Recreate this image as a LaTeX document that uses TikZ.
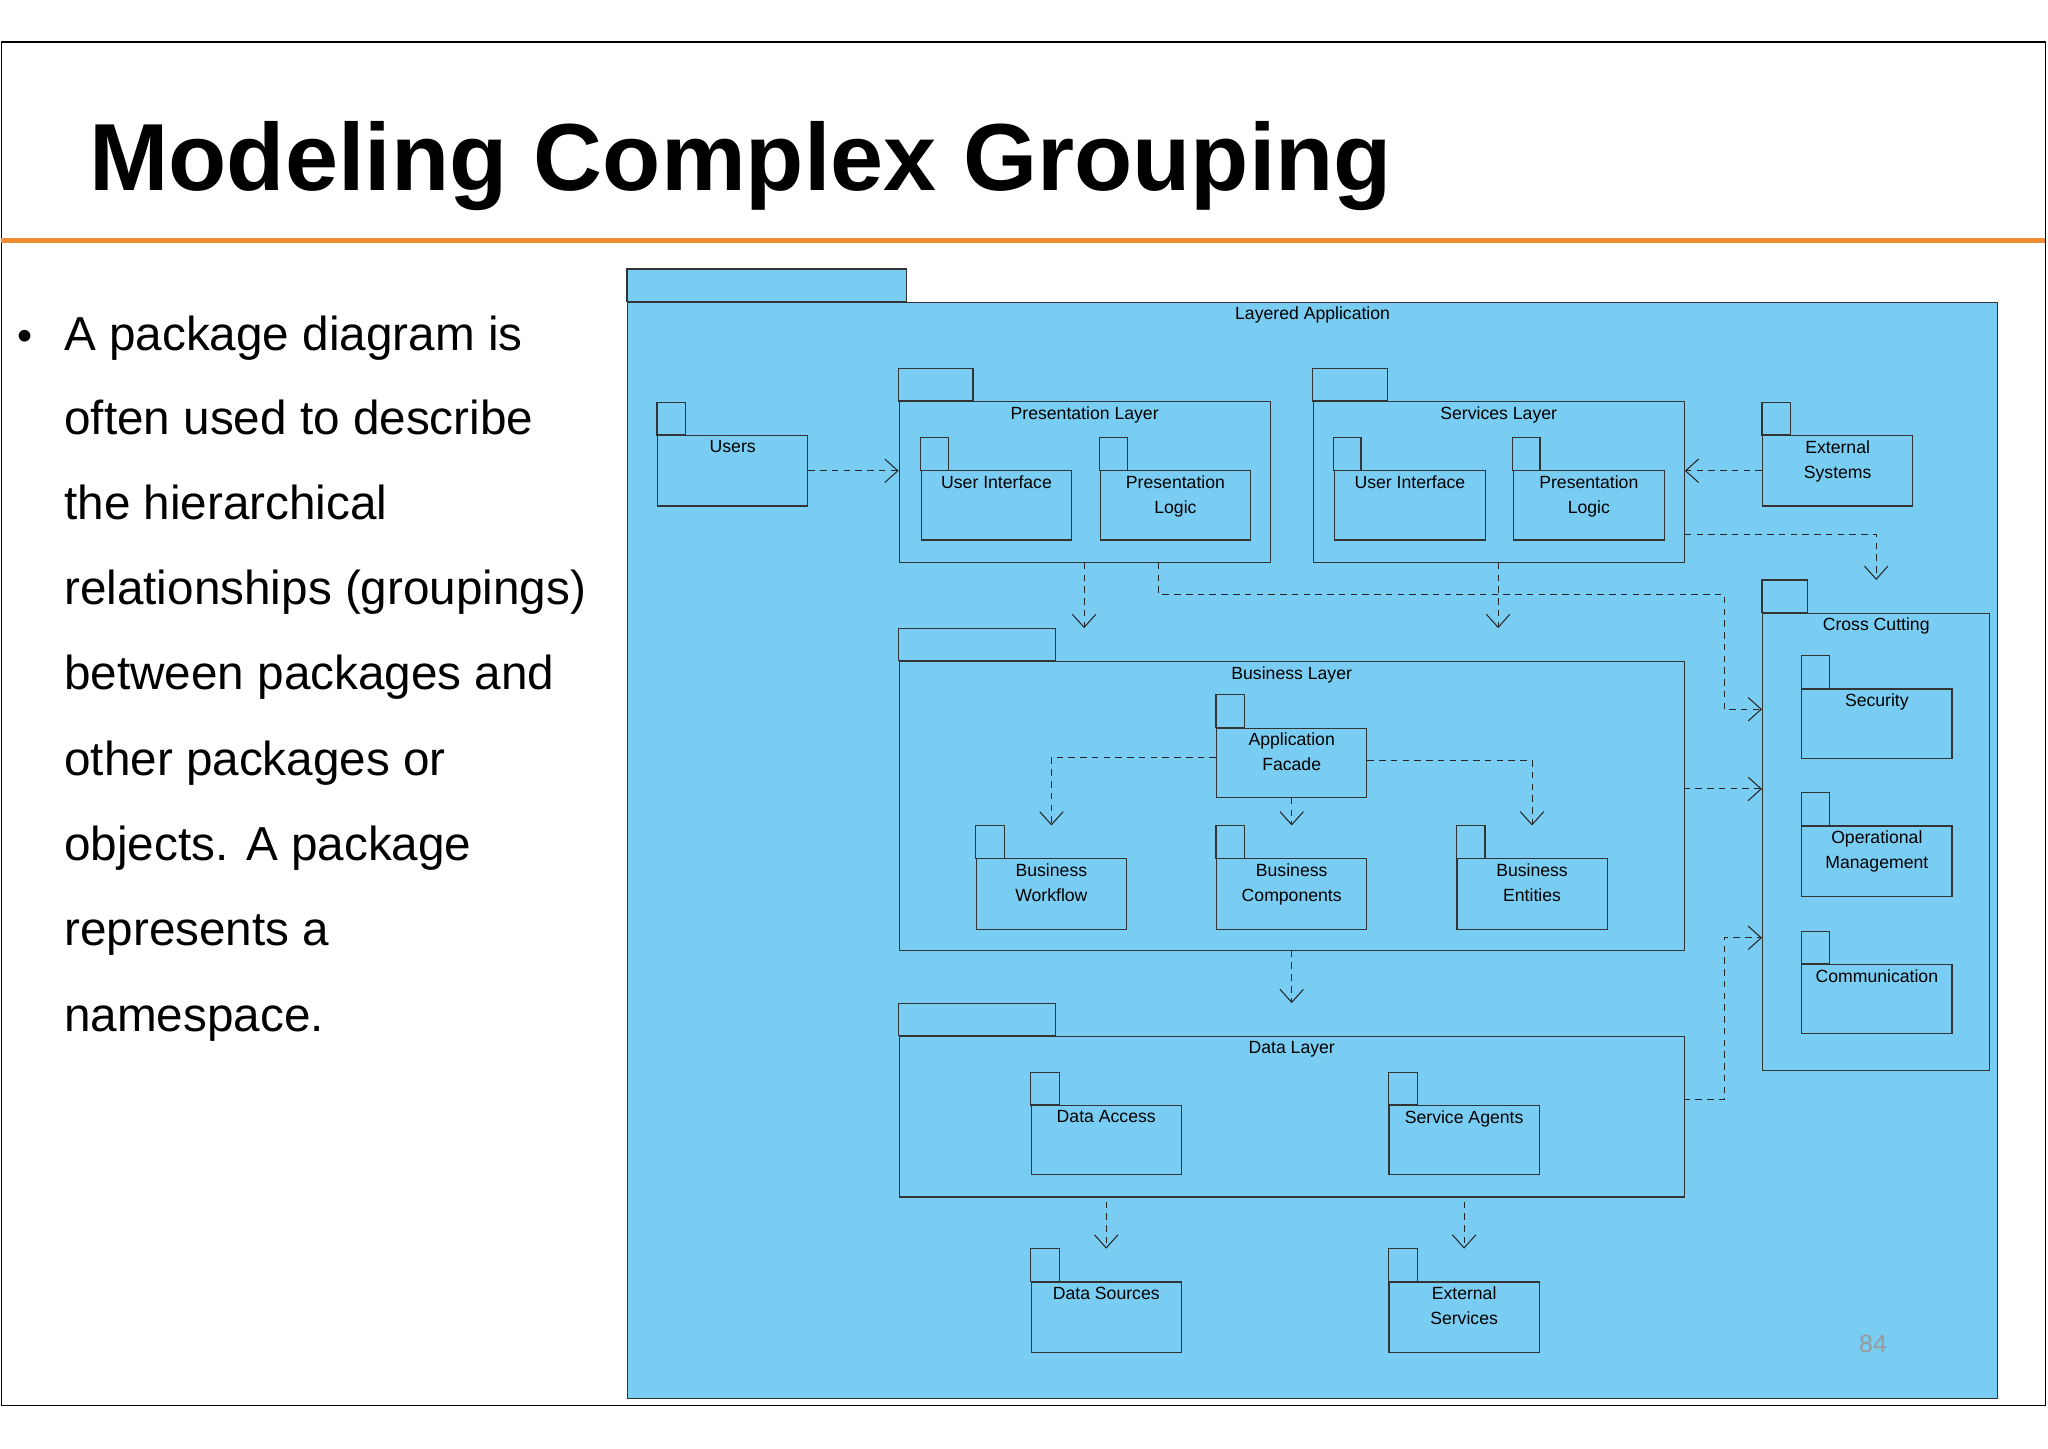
\documentclass[tikz,border=0pt]{standalone}
\usepackage{fontspec}
\setmainfont{Liberation Sans}
\usetikzlibrary{calc,arrows.meta}
\definecolor{pkblue}{RGB}{122,205,242}
\definecolor{orangeline}{RGB}{240,140,50}
\tikzset{
  pkbody/.style={draw=black!80,fill=pkblue,line width=0.9pt,anchor=north west,inner sep=0pt},
  pklab/.style={anchor=north,align=center,font=\fontsize{13.5}{19}\selectfont,inner sep=0pt},
  dep/.style={draw=black!85,line width=0.8pt,dash pattern=on 5pt off 4pt,-{Straight Barb[length=10pt,width=18pt]}},
  body/.style={anchor=base west,font=\fontsize{36.5}{40}\selectfont,inner sep=0pt}
}
% name, x1, y1, x2, y2, tab width, label
\newcommand\mypkg[7]{%
  \node[pkbody,minimum width={#4pt-#2pt},minimum height={#5pt-#3pt}] (#1) at (#2,#3) {};
  \draw[draw=black!80,fill=pkblue,line width=0.9pt] (#1.north west) rectangle ++(#6,-25);
  \node[pklab] (#1-l) at ([yshift=-4pt]#1.north) {#7};
}
\begin{document}
\begin{tikzpicture}[x=1pt,y=-1pt]
\useasboundingbox (0,0) rectangle (1568,1109);
\draw[line width=1.2pt] (1,32) rectangle (1566,1076);
\node[anchor=base west,font=\fontsize{73}{76}\selectfont\bfseries,inner sep=0pt] (title) at (68,146) {Modeling Complex Grouping};
\draw[orangeline,line width=4pt] (1,184) -- (1566,184);
% bullet text
\node[anchor=base west,font=\fontsize{33}{40}\selectfont,inner sep=0pt] (bul) at (13,268) {•};
\node[body] (t1) at (49,268) {A package diagram is};
\node[body] (t2) at (49,333) {often used to describe};
\node[body] (t3) at (49,398) {the hierarchical};
\node[body] (t4) at (49,463) {relationships (groupings)};
\node[body] (t5) at (49,528) {between packages and};
\node[body] (t6) at (49,594) {other packages or};
\node[body] (t7) at (49,659) {objects. A package};
\node[body] (t8) at (49,724) {represents a};
\node[body] (t9) at (49,790) {namespace.};
% packages
\mypkg{LA}{480}{231}{1529}{1070}{214}{Layered Application}
\mypkg{users}{503}{333}{618}{387}{22}{Users}
\mypkg{PL}{688}{307}{972}{430}{57}{Presentation Layer}
\mypkg{PLui}{705}{360}{820}{413}{21}{User Interface}
\mypkg{PLpl}{842}{360}{957}{413}{21}{Presentation\\Logic}
\mypkg{SL}{1005}{307}{1289}{430}{57}{Services Layer}
\mypkg{SLui}{1021}{360}{1137}{413}{21}{User Interface}
\mypkg{SLpl}{1158}{360}{1274}{413}{21}{Presentation\\Logic}
\mypkg{ext}{1349}{333}{1464}{387}{22}{External\\Systems}
\mypkg{CC}{1349}{469}{1523}{819}{35}{Cross Cutting}
\mypkg{sec}{1379}{527}{1494}{580}{22}{Security}
\mypkg{opm}{1379}{632}{1494}{686}{22}{Operational\\Management}
\mypkg{com}{1379}{738}{1494}{791}{22}{Communication}
\mypkg{BL}{688}{506}{1289}{727}{120}{Business Layer}
\mypkg{AF}{931}{557}{1046}{610}{22}{Application\\Facade}
\mypkg{BW}{747}{657}{862}{711}{22}{Business\\Workflow}
\mypkg{BC}{931}{657}{1046}{711}{22}{Business\\Components}
\mypkg{BE}{1115}{657}{1230}{711}{22}{Business\\Entities}
\mypkg{DL}{688}{793}{1289}{916}{120}{Data Layer}
\mypkg{DA}{789}{846}{904}{899}{22}{Data Access}
\mypkg{SA}{1063}{846}{1178}{899}{22}{Service Agents}
\mypkg{DS}{789}{981}{904}{1035}{22}{Data Sources}
\mypkg{ES}{1063}{981}{1178}{1035}{22}{External\\Services}
\node[text=black!40,font=\fontsize{19}{22}\selectfont] (pg) at (1434,1029) {84};
% dependencies
\draw[dep] (users.east) -- (users.east -| PL.west);
\draw[dep] (ext.west) -- (ext.west -| SL.east);
\draw[dep] ($(SL.south east)+(0,-22)$) -| ($(CC.north)+(0,-25)$);
\coordinate (e1) at ($(PL.south west)+(142,50)$);
\coordinate (e2) at ($(SL.south west)+(142,50)$);
\draw[dep] ($(PL.south west)+(142,0)$) -- (e1);
\draw[dep] ($(SL.south west)+(142,0)$) -- (e2);
\coordinate (k1) at (1320,543);
\draw[dep] ($(PL.south west)+(199,0)$) -- ++(0,24) -| (k1) -- (k1 -| CC.west);
\coordinate (k2) at (1289,604);
\draw[dep] (k2) -- (k2 -| CC.west);
\coordinate (k3) at (1289,842);
\coordinate (k4) at (1320,718);
\draw[dep] (k3) -| (k4) -- (k4 -| CC.west);
\draw[dep] ([yshift=4pt]AF.west) -| ($(BW.north west)+(58,-25)$);
\draw[dep] (AF.south) -- ($(BC.north)+(0,-25)$);
\draw[dep] ([yshift=2pt]AF.east) -| ($(BE.north)+(0,-25)$);
\draw[dep] (BL.south) -- ($(DL.north)+(0,-25)$);
\draw[dep] ($(DA.south)+(0,20)$) -- ($(DS.north)+(0,-25)$);
\draw[dep] ($(SA.south)+(0,20)$) -- ($(ES.north)+(0,-25)$);
\end{tikzpicture}
\end{document}
